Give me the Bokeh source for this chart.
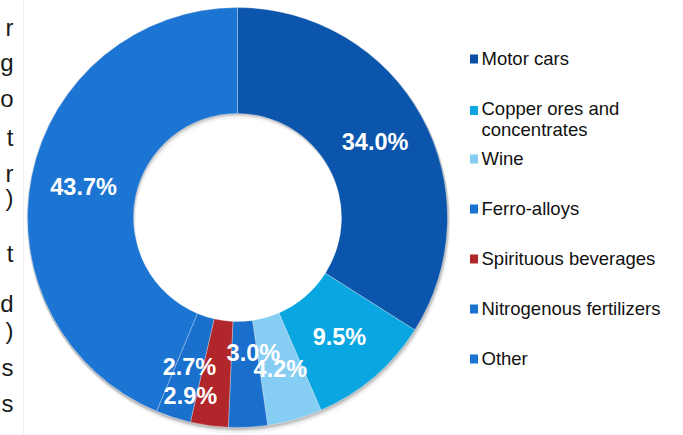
import numpy as np
from bokeh.plotting import figure
from bokeh.models import ColumnDataSource, Range1d
from bokeh.core.properties import value
from bokeh.embed import file_html
from bokeh.resources import INLINE

# ---- data ----
categories = ["Motor cars", "Copper ores and concentrates", "Wine", "Ferro-alloys",
              "Spirituous beverages", "Nitrogenous fertilizers", "Other"]
legend_lines = [["Motor cars"], ["Copper ores and", "concentrates"], ["Wine"], ["Ferro-alloys"],
                ["Spirituous beverages"], ["Nitrogenous fertilizers"], ["Other"]]
shares = [34.0, 9.5, 4.2, 3.0, 2.9, 2.7, 43.7]
slice_colors = ["#0b55ad", "#09a6e1", "#86cdf3", "#1a6fcc", "#b1262b", "#1a70cd", "#1c75d3"]
legend_colors = ["#0b4fa3", "#0aa6e0", "#86cdf1", "#1a73d0", "#b0272b", "#1a73d0", "#1c74d4"]
side_chars = ["r", "g", "o", "t", "r", ")", "t", "d", ")", "s", "s"]

# ---- layout helpers (picture px -> data) ----
W, H = 683, 435
def X(wx): return wx
def Y(wy): return H - wy

cx, cy = X(237), Y(217)
R_out, R_in = 210, 104

p = figure(width=W, height=H, x_range=Range1d(0, W), y_range=Range1d(0, H),
           output_backend="svg", toolbar_location=None, min_border=0)
p.axis.visible = False
p.grid.visible = False
p.outline_line_color = None
p.background_fill_color = "white"

# faint page border line at left
p.segment(x0=[X(23)], y0=[0], x1=[X(23)], y1=[H], line_color="#eeeeee", line_width=1)

# left-edge cut-off text fragments
side_baselines = [27, 62, 98, 137, 173, 197, 253, 303, 330, 367, 403]
p.text(x=[X(13)] * len(side_chars), y=[Y(b) for b in side_baselines], text=side_chars,
       text_align="right", text_baseline="alphabetic", text_font=value("Liberation Sans"),
       text_font_size="24px", text_color="#1a1a1a")

# soft shadow
for dy, dx, a in [(1, 0, 0.10), (2, 1, 0.08), (3, 1, 0.06), (5, 2, 0.04)]:
    p.annulus(x=cx + dx, y=cy - dy, inner_radius=R_in, outer_radius=R_out + 1,
              fill_color="black", fill_alpha=a, line_color=None)

vals = np.array(shares, dtype=float)
frac = vals / vals.sum()
cum_end = np.cumsum(frac)
cum_start = cum_end - frac
start_angle = np.pi / 2 - 2 * np.pi * cum_end
end_angle = np.pi / 2 - 2 * np.pi * cum_start
mid = (start_angle + end_angle) / 2

src = ColumnDataSource(dict(start=start_angle, end=end_angle, color=slice_colors))
p.annular_wedge(x=cx, y=cy, inner_radius=R_in, outer_radius=R_out,
                start_angle="start", end_angle="end", fill_color="color",
                line_color="white", line_alpha=0.3, line_width=1, source=src)

# value labels
label_r = 157
offsets = [(0, 0), (0, 0), (0, 0), (8, -21), (-26, 23), (0, 0), (0, 0)]  # picture px
lx = [cx + label_r * np.cos(m) + o[0] for m, o in zip(mid, offsets)]
ly = [cy + label_r * np.sin(m) - o[1] for m, o in zip(mid, offsets)]
p.text(x=lx, y=ly, text=[f"{v:.1f}%" for v in shares], text_align="center",
       text_baseline="middle", text_font=value("Liberation Sans"), text_font_style="bold",
       text_font_size="23.5px", text_color="white")

# legend
sq_x, tx_x = 473.5, 481
for i, (lines, col) in enumerate(zip(legend_lines, legend_colors)):
    wy = 58 + 50 * i
    sq_y = wy + (2 if len(lines) > 1 else 0.5)
    p.rect(x=[X(sq_x)], y=[Y(sq_y)], width=8, height=9, fill_color=col, line_color=None)
    for j, t in enumerate(lines):
        p.text(x=[X(tx_x)], y=[Y(wy + 21 * j)], text=[t], text_align="left",
               text_baseline="middle", text_font=value("Liberation Sans"),
               text_font_size="18.5px", text_color="#111111")

open("out.html", "w").write(file_html(p, INLINE))
